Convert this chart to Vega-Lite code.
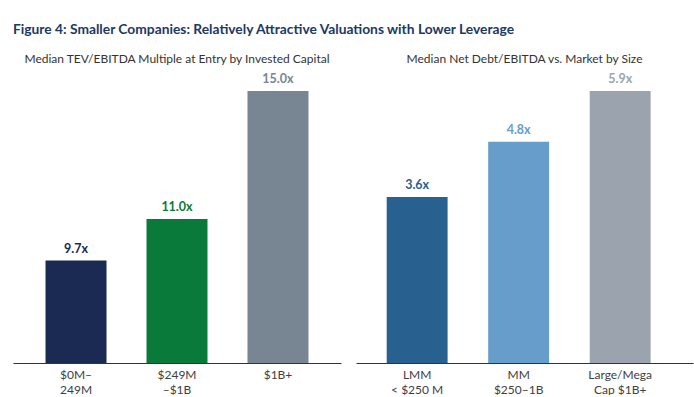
{
  "$schema": "https://vega.github.io/schema/vega-lite/v6.json",
  "padding": {"left": 13, "right": 1, "top": 23, "bottom": 0},
  "background": "white",
  "title": {"text": "Figure 4: Smaller Companies: Relatively Attractive Valuations with Lower Leverage", "anchor": "start", "font": "Lato", "fontSize": 13.8, "fontWeight": "bold", "color": "#203864", "offset": 16},
  "config": {
    "view": {"stroke": null},
    "font": "Lato",
    "axis": {"labelFont": "Lato", "labelFontSize": 12, "labelColor": "#404040", "domainColor": "#333333", "domainWidth": 1, "ticks": false, "grid": false, "labelPadding": 6, "labelLineHeight": 15, "labelAngle": 0, "title": null},
    "title": {"font": "Lato", "fontSize": 12, "fontWeight": "normal", "color": "#333333"}
  },
  "resolve": {"scale": {"color": "independent", "x": "independent", "y": "independent"}},
  "spacing": 15,
  "hconcat": [
    {
      "width": 328,
      "height": 272,
      "title": {"text": "Median TEV/EBITDA Multiple at Entry by Invested Capital", "anchor": "middle", "offset": 7},
      "data": {"values": [
        {"cat": "$0M–|249M", "v": 9.7, "lab": "9.7x"},
        {"cat": "$249M|–$1B", "v": 11.0, "lab": "11.0x"},
        {"cat": "$1B+", "v": 15.0, "lab": "15.0x"}
      ]},
      "encoding": {
        "x": {"field": "cat", "type": "nominal", "sort": null, "scale": {"paddingInner": 0.396, "paddingOuter": 0.322}, "axis": {"labelExpr": "split(datum.label, '|')"}},
        "y": {"field": "v", "type": "quantitative", "scale": {"domain": [6.5, 15], "zero": false, "nice": false}, "axis": null},
        "color": {"field": "cat", "type": "nominal", "sort": null, "scale": {"domain": ["$0M–|249M", "$249M|–$1B", "$1B+"], "range": ["#1b2a52", "#0a7a3a", "#788592"]}, "legend": null}
      },
      "layer": [
        {"mark": {"type": "bar"}, "encoding": {"y2": {"datum": 6.5}}},
        {"mark": {"type": "text", "baseline": "alphabetic", "dy": -8, "fontSize": 12.5, "fontWeight": "bold"}, "encoding": {"text": {"field": "lab"}}}
      ]
    },
    {
      "width": 337,
      "height": 272,
      "title": {"text": "Median Net Debt/EBITDA vs. Market by Size", "anchor": "middle", "offset": 7},
      "data": {"values": [
        {"cat": "LMM|< $250 M", "v": 3.6, "lab": "3.6x"},
        {"cat": "MM|$250–1B", "v": 4.8, "lab": "4.8x"},
        {"cat": "Large/Mega|Cap $1B+", "v": 5.9, "lab": "5.9x"}
      ]},
      "encoding": {
        "x": {"field": "cat", "type": "nominal", "sort": null, "scale": {"paddingInner": 0.4, "paddingOuter": 0.36, "align": 0.42}, "axis": {"labelExpr": "split(datum.label, '|')"}},
        "y": {"field": "v", "type": "quantitative", "scale": {"domain": [0, 5.9], "nice": false}, "axis": null},
        "color": {"field": "cat", "type": "nominal", "sort": null, "scale": {"domain": ["LMM|< $250 M", "MM|$250–1B", "Large/Mega|Cap $1B+"], "range": ["#28608f", "#669dca", "#9ba4ae"]}, "legend": null}
      },
      "layer": [
        {"mark": {"type": "bar"}},
        {"mark": {"type": "text", "baseline": "alphabetic", "dy": -8, "fontSize": 12.5, "fontWeight": "bold"}, "encoding": {"text": {"field": "lab"}}}
      ]
    }
  ]
}
